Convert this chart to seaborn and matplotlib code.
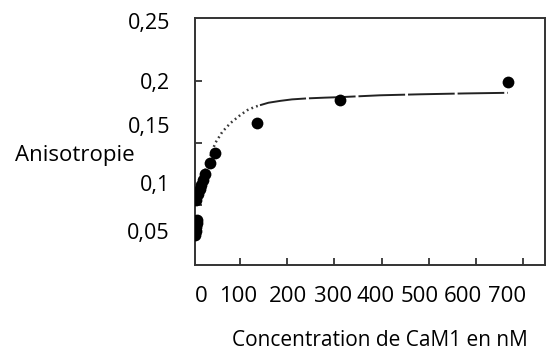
import pandas as pd
import seaborn as sns
import matplotlib.pyplot as plt

# measured points (concentration in nM, anisotropy)
CONC_NM = [5, 6, 7, 8, 9, 7, 11, 15, 17.5, 22, 26, 36.5, 47, 136, 312, 668]
ANISO = [0.076, 0.079, 0.082, 0.0855, 0.088, 0.104, 0.109, 0.113, 0.116,
         0.120, 0.125, 0.134, 0.142, 0.166, 0.185, 0.199]

# fitted curve (dotted start, dashed tail)
FIT_DOT_X = [26, 47, 62, 79, 100, 115, 130, 142]
FIT_DOT_Y = [0.128, 0.150, 0.159, 0.166, 0.1725, 0.1765, 0.1790, 0.1805]
FIT_DASH_X = [142, 160, 185, 210, 242, 280, 312, 397, 482, 577, 668]
FIT_DASH_Y = [0.1805, 0.1825, 0.1840, 0.1852, 0.1860, 0.1866, 0.1870,
              0.1885, 0.1893, 0.1900, 0.1905]

X_TICKS = [100, 200, 300, 400, 500, 600, 700]
Y_TICKS = [0.1, 0.15, 0.2]
X_TICK_LABELS = ["0", "100", "200", "300", "400", "500", "600", "700"]
Y_TICK_LABELS = ["0,25", "0,2", "0,15", "0,1", "0,05"]
X_LABEL = "Concentration de CaM1 en nM"
Y_LABEL = "Anisotropie"

W, H = 547, 358


def main():
    sns.set_theme(style="white")
    plt.rcParams['font.family'] = ['Open Sans', 'DejaVu Sans']
    plt.rcParams['text.color'] = 'black'

    fig = plt.figure(figsize=(W / 100, H / 100), dpi=100)
    ax = fig.add_axes([194.5 / W, 1 - 265 / H, (545 - 194.5) / W, (265 - 18) / H])

    points = pd.DataFrame({"conc": CONC_NM, "aniso": ANISO})
    dots = pd.DataFrame({"conc": FIT_DOT_X, "aniso": FIT_DOT_Y})
    dashes = pd.DataFrame({"conc": FIT_DASH_X, "aniso": FIT_DASH_Y})

    sns.lineplot(data=dots, x="conc", y="aniso", ax=ax, color="#3a3a3a",
                 linewidth=1.8, linestyle=(0, (0.7, 1.3)), sort=False)
    sns.lineplot(data=dashes, x="conc", y="aniso", ax=ax, color="#222222",
                 linewidth=1.4, linestyle=(0, (24, 1.5)), sort=False)
    sns.scatterplot(data=points, x="conc", y="aniso", ax=ax, color="black",
                    s=72, edgecolor="black", linewidth=0, zorder=3)

    ax.set_xlim(3, 747)
    ax.set_ylim(0.0517, 0.2508)
    ax.set_xticks(X_TICKS)
    ax.set_yticks(Y_TICKS)
    ax.tick_params(direction="in", length=5, width=1.2, color="#222222",
                   labelbottom=False, labelleft=False, bottom=True, left=True)
    ax.set_xlabel("")
    ax.set_ylabel("")
    for side in ax.spines.values():
        side.set_color("#333333")
        side.set_linewidth(1.4)

    # tick labels sit apart from the frame in the original
    x_label_px = [201, 238, 288, 333, 376, 420, 463, 507]
    for lbl, px in zip(X_TICK_LABELS, x_label_px):
        fig.text(px / W, 1 - 296 / H, lbl, ha="center", va="center", fontsize=15.9)
    y_label_py = [23, 83, 127, 185, 233]
    for lbl, py in zip(Y_TICK_LABELS, y_label_py):
        fig.text(170 / W, 1 - py / H, lbl, ha="right", va="center", fontsize=15.5)
    fig.text(135 / W, 1 - 156 / H, Y_LABEL, ha="right", va="center", fontsize=16)
    fig.text(380 / W, 1 - 340 / H, X_LABEL, ha="center", va="center", fontsize=15)

    fig.savefig("out.png", dpi=100)
    plt.close(fig)


if __name__ == "__main__":
    main()
